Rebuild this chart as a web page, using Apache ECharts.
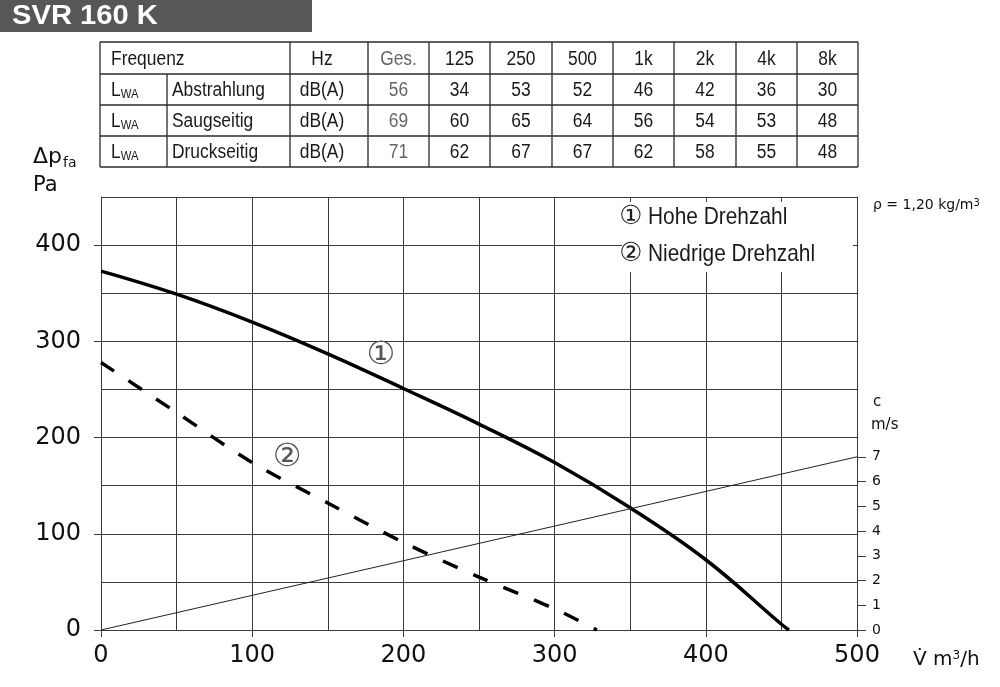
<!DOCTYPE html>
<html>
<head>
<meta charset="utf-8">
<script src="https://cdn.jsdelivr.net/npm/echarts@6/dist/echarts.min.js"></script>
<style>
html,body{margin:0;padding:0;background:#fff;}
#chart{width:1000px;height:687px;}
</style>
</head>
<body>
<div id="chart"></div>
<script>
// ---- data ----
const flowHigh = [0, 50, 100, 150, 200, 250, 300, 350, 400, 450, 455];
const pressureHigh = [373, 349, 320, 287, 251, 214, 174, 127, 73, 6, 0];
const flowLow = [0, 50, 100, 150, 200, 250, 300, 328];
const pressureLow = [278, 226, 174, 132, 91, 55, 22, 0];
const velFlow = [0, 500];
const velocity = [0, 7];
const xTickLabels = [0, 100, 200, 300, 400, 500];
const yTickLabels = [0, 100, 200, 300, 400];
const cTickLabels = [0, 1, 2, 3, 4, 5, 6, 7];

const tableHead = ['Frequenz', 'Hz', 'Ges.', '125', '250', '500', '1k', '2k', '4k', '8k'];
const rowNames = ['Abstrahlung', 'Saugseitig', 'Druckseitig'];
const rowUnit = 'dB(A)';
const rowAbstrahlung = [56, 34, 53, 52, 46, 42, 36, 30];
const rowSaugseitig = [69, 60, 65, 64, 56, 54, 53, 48];
const rowDruckseitig = [71, 62, 67, 67, 62, 58, 55, 48];
const legendTexts = ['Hohe Drehzahl', 'Niedrige Drehzahl'];
const curveMarks = ['\u2460', '\u2461'];

// ---- table graphics ----
const colX = [100, 290, 368, 429, 490, 552, 613, 674, 736, 797, 858];
const rowY = [42, 74, 105, 136, 167];
const lineCol = '#2a2a2a';
const graphics = [];
const SX = 0.87;
function ln(x1, y1, x2, y2, w) {
  graphics.push({type: 'line', shape: {x1, y1, x2, y2}, style: {stroke: lineCol, lineWidth: w || 1.3}, silent: true});
}
function cond(text, x, y, align, color, size) {
  graphics.push({type: 'text', x: x, y: y, scaleX: SX,
    style: {text: String(text), fill: color || '#1a1a1a', fontSize: size || 20,
      fontFamily: '"Liberation Sans", Arial, sans-serif', align: align || 'center', verticalAlign: 'middle'}});
}
rowY.forEach(y => ln(colX[0], y, colX[colX.length - 1], y));
colX.forEach(x => ln(x, rowY[0], x, rowY[4]));
ln(167, rowY[1], 167, rowY[4]);

const rowMid = [58, 89.5, 120.5, 151.5].map(v => v + 1);
cond(tableHead[0], 111, rowMid[0], 'left');
cond(tableHead[1], 322, rowMid[0]);
for (let i = 2; i < tableHead.length; i++) {
  cond(tableHead[i], (colX[i] + colX[i + 1]) / 2, rowMid[0], 'center', i === 2 ? '#666' : '#1a1a1a');
}
const rows = [rowAbstrahlung, rowSaugseitig, rowDruckseitig];
rows.forEach((vals, r) => {
  const y = rowMid[r + 1];
  graphics.push({type: 'text', x: 111, y: y, scaleX: SX,
    style: {text: '{a|L}{b|WA}', align: 'left', verticalAlign: 'middle',
      rich: {a: {fontSize: 20, fontFamily: '"Liberation Sans", Arial', fill: '#1a1a1a'},
             b: {fontSize: 13, fontFamily: '"Liberation Sans", Arial', fill: '#1a1a1a', verticalAlign: 'bottom'}}}});
  cond(rowNames[r], 172, y, 'left');
  cond(rowUnit, 322, y);
  vals.forEach((v, i) => {
    cond(v, (colX[i + 2] + colX[i + 3]) / 2, y, 'center', i === 0 ? '#666' : '#1a1a1a');
  });
});

// title bar
graphics.push({type: 'rect', shape: {x: 0, y: 0, width: 312, height: 32}, style: {fill: '#575757'}});
graphics.push({type: 'text', x: 12, y: 17, style: {text: 'SVR 160 K', fill: '#fff', fontSize: 27, fontWeight: 'bold',
  fontFamily: '"Liberation Sans", Arial, sans-serif', align: 'left', verticalAlign: 'middle'}, scaleX: 1.08});

// axis names
graphics.push({type: 'text', x: 33, y: 157, style: {text: '\u0394p', fill: '#111', fontSize: 22, fontFamily: '"DejaVu Sans"', align: 'left', verticalAlign: 'middle'}});
graphics.push({type: 'text', x: 63, y: 163, style: {text: 'fa', fill: '#111', fontSize: 14, fontFamily: '"DejaVu Sans"', align: 'left', verticalAlign: 'middle'}});
graphics.push({type: 'text', x: 33, y: 186, style: {text: 'Pa', fill: '#111', fontSize: 21, fontFamily: '"DejaVu Sans"', align: 'left', verticalAlign: 'middle'}});
graphics.push({type: 'text', x: 873, y: 402, style: {text: 'c', fill: '#111', fontSize: 15, fontFamily: '"DejaVu Sans"', align: 'left', verticalAlign: 'middle'}});
graphics.push({type: 'text', x: 871, y: 425, style: {text: 'm/s', fill: '#111', fontSize: 15, fontFamily: '"DejaVu Sans"', align: 'left', verticalAlign: 'middle'}});
graphics.push({type: 'text', x: 913, y: 660, style: {text: '{n|V\u0307 m}{s|3}{n|/h}', align: 'left', verticalAlign: 'middle',
  rich: {n: {fontSize: 20, fontFamily: '"DejaVu Sans"', fill: '#111'}, s: {fontSize: 12, fontFamily: '"DejaVu Sans"', fill: '#111', verticalAlign: 'top'}}}});
graphics.push({type: 'text', x: 873, y: 205, style: {text: '{n|\u03c1 = 1,20 kg/m}{s|3}', align: 'left', verticalAlign: 'middle',
  rich: {n: {fontSize: 14, fontFamily: '"DejaVu Sans"', fill: '#111'}, s: {fontSize: 10, fontFamily: '"DejaVu Sans"', fill: '#111', verticalAlign: 'top'}}}});

// legend box
graphics.push({type: 'rect', z: 100, shape: {x: 622, y: 202, width: 231, height: 70}, style: {fill: '#fff'}});
[217, 254].forEach((y, i) => {
  graphics.push({type: 'text', z: 101, x: 631, y: y, style: {text: curveMarks[i], fill: '#222', fontSize: 26,
    fontFamily: '"DejaVu Sans", "Noto Sans CJK SC"', align: 'center', verticalAlign: 'middle'}});
  graphics.push({type: 'text', z: 101, x: 648, y: y, scaleX: SX, style: {text: legendTexts[i], fill: '#1a1a1a', fontSize: 24,
    fontFamily: '"Liberation Sans", Arial', align: 'left', verticalAlign: 'middle'}});
});

const gridCol = '#3a3a3a';
const axisFont = {fontFamily: '"DejaVu Sans", sans-serif', fontSize: 24, color: '#111'};

const chart = echarts.init(document.getElementById('chart'));
chart.setOption({
  animation: false,
  backgroundColor: '#fff',
  grid: {left: 101, right: 143, top: 197, bottom: 57, containLabel: false},
  xAxis: [
    {type: 'value', min: 0, max: 500, interval: 50, position: 'bottom',
     axisLine: {show: true, lineStyle: {color: gridCol, width: 1}},
     axisTick: {show: false}, axisLabel: {show: false},
     splitLine: {show: true, lineStyle: {color: gridCol, width: 1}}},
    {type: 'value', min: 0, max: 500, interval: 100, position: 'bottom',
     axisLine: {show: false},
     axisTick: {show: true, length: 7, lineStyle: {color: gridCol}, customValues: xTickLabels},
     axisLabel: Object.assign({show: true, margin: 14, customValues: xTickLabels}, axisFont),
     splitLine: {show: false}}
  ],
  yAxis: [
    {type: 'value', min: 0, max: 450, interval: 50, position: 'left',
     axisLine: {show: true, lineStyle: {color: gridCol, width: 1}},
     axisTick: {show: false}, axisLabel: {show: false},
     splitLine: {show: true, lineStyle: {color: gridCol, width: 1}}},
    {type: 'value', min: 0, max: 450, interval: 50, position: 'left',
     axisLine: {show: false},
     axisTick: {show: true, length: 7, lineStyle: {color: gridCol}, customValues: yTickLabels},
     axisLabel: Object.assign({show: true, margin: 20, customValues: yTickLabels}, axisFont),
     splitLine: {show: false}},
    {type: 'value', min: 0, max: 17.5, interval: 1, position: 'right',
     axisLine: {show: true, lineStyle: {color: gridCol, width: 1}},
     axisTick: {show: true, length: 9, lineStyle: {color: gridCol}, customValues: cTickLabels},
     axisLabel: {show: true, margin: 15, fontFamily: '"DejaVu Sans", sans-serif', fontSize: 14, color: '#111', customValues: cTickLabels},
     splitLine: {show: false}}
  ],
  series: [
    {type: 'line', name: legendTexts[0], xAxisIndex: 0, yAxisIndex: 0, smooth: 0.4, showSymbol: false,
     data: flowHigh.map((v, i) => [v, pressureHigh[i]]),
     lineStyle: {color: '#000', width: 3.5},
     markPoint: {symbol: 'circle', symbolSize: 0, data: [{coord: [185, 285]}],
       label: {show: true, formatter: curveMarks[0], position: 'inside', color: '#555', fontSize: 32,
         fontFamily: '"DejaVu Sans", "Noto Sans CJK SC"'}}},
    {type: 'line', name: legendTexts[1], xAxisIndex: 0, yAxisIndex: 0, smooth: 0.3, showSymbol: false,
     data: flowLow.map((v, i) => [v, pressureLow[i]]),
     lineStyle: {color: '#000', width: 3.5, type: [16, 17]},
     markPoint: {symbol: 'circle', symbolSize: 0, data: [{coord: [123, 179]}],
       label: {show: true, formatter: curveMarks[1], position: 'inside', color: '#555', fontSize: 32,
         fontFamily: '"DejaVu Sans", "Noto Sans CJK SC"'}}},
    {type: 'line', name: 'c', xAxisIndex: 0, yAxisIndex: 2, showSymbol: false,
     data: velFlow.map((v, i) => [v, velocity[i]]),
     lineStyle: {color: '#222', width: 1}}
  ],
  graphic: graphics
});
</script>
</body>
</html>
